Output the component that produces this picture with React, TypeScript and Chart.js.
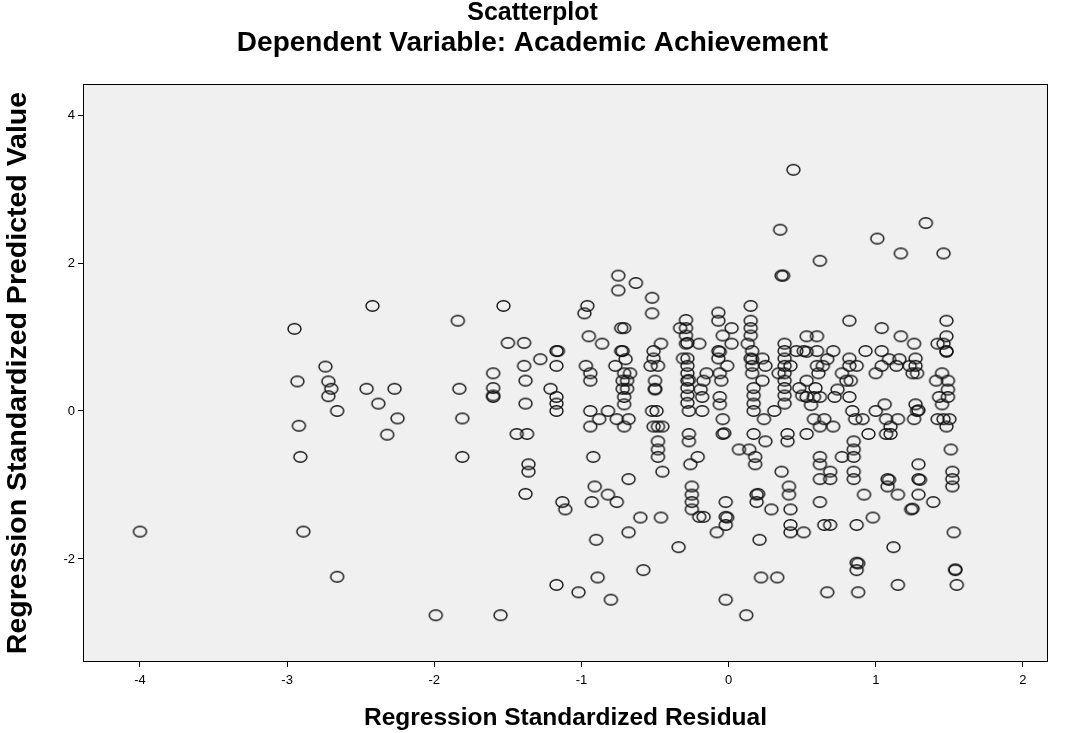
import React, { useEffect, useRef } from "react";
import { Chart, registerables } from "chart.js";

Chart.register(...registerables);

const chartTitle = "Scatterplot";
const chartSubtitle = "Dependent Variable: Academic Achievement";
const xAxisTitle = "Regression Standardized Residual";
const yAxisTitle = "Regression Standardized Predicted Value";

const xTicks = [-4, -3, -2, -1, 0, 1, 2];
const yTicks = [-2, 0, 2, 4];
const xRange = [-4.387, 2.17];
const yRange = [-3.392, 4.419];

// Regression Standardized Residual (x) paired with Regression Standardized Predicted Value (y)
const residuals = [
  -2.95, -2.74, -2.93, -2.72, -2.7, -2.72, -2.66, -2.92, -2.91, -4.0, -2.89, -2.66,
  -2.42, -1.53, -1.84, -1.5, -1.39, -1.28, -1.17, -1.16, -1.17, -1.6, -1.39, -1.38, -2.46, -2.27, -1.83, -1.6, -1.6, -1.6,
  -1.21, -1.17, -1.17, -1.17, -2.38, -1.38, -2.25, -1.81, -2.32, -1.44, -1.37, -1.81, -1.36, -1.36, -1.38, -1.99, -1.55, -1.17,
  -0.75, -0.63, -0.75, -0.52, -0.96, -0.98, -0.52, -0.73, -0.71, -0.95, -0.86, -0.46, -0.73, -0.72, -0.7, -0.51, -0.51,
  -0.53, -0.48, -0.97, -0.94, -0.94, -0.77, -0.71, -0.67, -0.72, -0.69, -0.72, -0.69, -0.71, -0.71, -0.5, -0.5, -0.5,
  -0.94, -0.82, -0.52, -0.49, -0.88, -0.76, -0.68, -0.94, -0.71, -0.51, -0.48, -0.45, -0.48, -0.48, -0.48, -0.45, -0.92,
  -0.68, -0.91, -0.82, -0.93, -0.76, -1.13, -1.11, -0.6, -0.46, -0.68, -0.9, -0.58, -0.89, -1.02, -0.8,
  0.44, 0.35, 0.36, 0.37, 0.15, -0.07, -0.07, -0.29, -0.33, -0.29, -0.29, -0.29, -0.28, -0.2, 0.02, -0.04, 0.02, 0.15,
  0.15, 0.15, 0.13, -0.07, -0.06, -0.07, -0.01, -0.15, -0.17, -0.06, -0.05, -0.31, -0.28, -0.28, -0.28, -0.28, -0.27,
  -0.28, -0.28, -0.28, -0.19, -0.18, -0.06, -0.06, 0.16, 0.15, 0.16, 0.16, 0.16, 0.23, 0.25, 0.23, 0.17, 0.17, 0.17,
  0.38, 0.38, 0.38, 0.38, 0.38, 0.38, 0.38, 0.38, 0.38, 0.34, 0.42,
  -0.27, -0.18, -0.04, -0.04, -0.03, 0.17, 0.31, 0.24, 0.17, 0.25, 0.4, 0.4, -0.27, -0.27, 0.07, 0.14, 0.18, 0.18, -0.21,
  -0.26, 0.36, -0.25, -0.25, -0.25, -0.25, -0.2, -0.17, -0.02, -0.02, -0.01, -0.02, -0.08, 0.19, 0.2, 0.19, 0.29, 0.41,
  0.41, 0.42, 0.42, 0.42, 0.21, -0.34, 0.22, 0.33, -0.02, 0.12,
  1.01, 1.17, 0.62, 0.82, 1.04, 0.53, 0.6, 1.17, 1.26, 0.46, 0.51, 0.53, 0.6, 0.71, 0.93, 1.04, 0.67, 0.82, 1.09, 1.16,
  1.27, 0.6, 0.64, 0.82, 0.87, 1.04, 1.14, 1.23, 1.27, 0.61, 0.77, 1.0, 1.25, 1.28, 0.53, 0.8, 0.83, 0.48, 0.5, 0.59,
  0.74, 0.53, 0.58, 0.62, 0.72, 0.82, 0.56, 1.06, 1.27,
  1.28, 1.29, 0.84, 1.0, 0.58, 0.65, 0.86, 0.91, 1.07, 1.15, 1.26, 0.53, 0.62, 0.71, 0.95, 1.07, 1.1, 1.1, 0.85, 0.85,
  0.85, 0.77, 0.62, 0.62, 0.69, 0.69, 0.62, 0.85, 0.85, 1.29, 1.29, 1.3, 1.29, 1.08, 1.09, 1.08, 1.15, 0.92, 0.62, 1.24,
  1.25, 0.51, 0.65, 0.69, 0.87, 0.98, 1.12, 0.87, 0.88, 0.87, 1.15, 0.67, 0.88,
  1.34, 1.46, 1.48, 1.48, 1.42, 1.46, 1.48, 1.48, 1.45, 1.41, 1.49, 1.49, 1.43, 1.49, 1.45, 1.42, 1.46, 1.5, 1.48, 1.51,
  1.39, 1.52, 1.52, 1.52, 1.53, 1.54, 1.54, 1.55,
];

const predicted = [
  1.11, 0.6, 0.4, 0.4, 0.3, 0.2, 0.0, -0.2, -0.62, -1.63, -1.63, -2.24,
  1.42, 1.42, 1.22, 0.92, 0.92, 0.7, 0.81, 0.81, 0.61, 0.51, 0.61, 0.41, 0.3, 0.3, 0.3, 0.31, 0.19, 0.21,
  0.3, 0.19, 0.1, 0.0, 0.1, 0.1, -0.1, -0.1, -0.32, -0.31, -0.31, -0.62, -0.72, -0.82, -1.12, -2.76, -2.76, -2.35,
  1.83, 1.73, 1.63, 1.53, 1.42, 1.32, 1.32, 1.12, 1.12, 1.01, 0.91, 0.91, 0.81, 0.81, 0.7, 0.81, 0.71,
  0.61, 0.61, 0.61, 0.51, 0.41, 0.61, 0.51, 0.51, 0.41, 0.41, 0.3, 0.3, 0.19, 0.09, 0.41, 0.3, 0.29,
  0.0, 0.0, 0.0, 0.0, -0.11, -0.11, -0.11, -0.21, -0.21, -0.21, -0.21, -0.21, -0.41, -0.52, -0.62, -0.82, -0.62,
  -0.92, -1.02, -1.13, -1.23, -1.23, -1.23, -1.33, -1.44, -1.44, -1.64, -1.74, -2.15, -2.25, -2.45, -2.55,
  3.26, 2.45, 1.83, 1.83, 1.42, 1.33, 1.22, 1.23, 1.12, 1.12, 1.02, 0.91, 0.92, 0.91, 1.12, 1.02, 0.91, 1.22,
  1.12, 1.02, 0.91, 0.81, 0.8, 0.71, 0.61, 0.51, 0.41, 0.51, 0.41, 0.71, 0.71, 0.61, 0.51, 0.41, 0.42,
  0.31, 0.21, 0.11, 0.29, 0.19, 0.19, 0.09, 0.81, 0.71, 0.7, 0.61, 0.51, 0.71, 0.61, 0.41, 0.31, 0.21, 0.1,
  0.91, 0.81, 0.71, 0.61, 0.51, 0.41, 0.31, 0.21, 0.1, 0.51, 0.61,
  0.0, 0.0, -0.11, -0.31, -0.3, 0.0, 0.0, -0.11, -0.31, -0.41, -0.31, -0.41, -0.31, -0.41, -0.52, -0.52, -0.62, -0.72, -0.62,
  -0.72, -0.82, -1.02, -1.13, -1.23, -1.33, -1.43, -1.43, -1.23, -1.43, -1.44, -1.54, -1.64, -1.13, -1.12, -1.23, -1.33, -1.02,
  -1.13, -1.33, -1.54, -1.64, -1.74, -1.84, -2.25, -2.25, -2.55, -2.76,
  2.33, 2.13, 2.03, 1.22, 1.12, 1.01, 1.01, 1.01, 0.91, 0.81, 0.81, 0.8, 0.81, 0.81, 0.81, 0.81, 0.7, 0.71, 0.7, 0.7,
  0.71, 0.61, 0.61, 0.61, 0.61, 0.61, 0.61, 0.61, 0.61, 0.51, 0.51, 0.51, 0.51, 0.51, 0.41, 0.41, 0.41, 0.31, 0.21, 0.31,
  0.29, 0.19, 0.19, 0.19, 0.19, 0.19, 0.08, 0.09, 0.09,
  0.0, 0.01, 0.0, 0.0, -0.11, -0.11, -0.11, -0.11, -0.11, -0.11, -0.11, -0.31, -0.21, -0.21, -0.31, -0.31, -0.31, -0.21, -0.41, -0.52,
  -0.62, -0.62, -0.62, -0.72, -0.82, -0.92, -0.92, -0.82, -0.92, -0.72, -0.92, -0.93, -1.13, -0.92, -0.93, -1.02, -1.13, -1.13, -1.23, -1.33,
  -1.32, -1.64, -1.54, -1.54, -1.54, -1.44, -1.84, -2.05, -2.06, -2.15, -2.35, -2.45, -2.45,
  2.54, 2.13, 1.22, 1.01, 0.91, 0.91, 0.8, 0.81, 0.51, 0.41, 0.41, 0.29, 0.19, 0.19, 0.09, -0.11, -0.11, -0.11, -0.21, -0.52,
  -1.23, -0.82, -0.92, -1.02, -1.64, -2.15, -2.14, -2.35,
];

const FONT = "'Liberation Sans', Arial, Helvetica, sans-serif";

function makeMarker(): HTMLCanvasElement {
  const c = document.createElement("canvas");
  c.width = 17;
  c.height = 14;
  const g = c.getContext("2d")!;
  g.strokeStyle = "#111";
  g.lineWidth = 1.4;
  g.beginPath();
  g.ellipse(8.5, 7, 6.5, 5.2, 0, 0, Math.PI * 2);
  g.stroke();
  return c;
}

const framePlugin = {
  id: "spssFrame",
  beforeDraw(chart: any) {
    const { ctx, chartArea } = chart;
    const { left, top, width, height } = chartArea;
    ctx.save();
    ctx.fillStyle = "#f0f0f0";
    ctx.fillRect(left, top, width, height);
    ctx.restore();
  },
  afterDraw(chart: any) {
    const { ctx, chartArea } = chart;
    const { left, top, right, bottom } = chartArea;
    ctx.save();
    ctx.strokeStyle = "#000";
    ctx.lineWidth = 1;
    ctx.strokeRect(Math.round(left) + 0.5, Math.round(top) + 0.5, Math.round(right - left) - 1, Math.round(bottom - top) - 1);
    ctx.restore();
  },
};

export default function App() {
  const ref = useRef<HTMLCanvasElement | null>(null);

  useEffect(() => {
    document.body.style.margin = "0";
    const canvas = ref.current;
    if (!canvas) return;
    const marker = makeMarker();
    const points = residuals.map((x, i) => ({ x, y: predicted[i] }));
    const chart = new Chart(canvas, {
      type: "scatter",
      data: {
        datasets: [
          {
            data: points,
            pointStyle: marker as any,
            pointRadius: 6,
            pointHoverRadius: 6,
            yAxisID: "y",
          },
        ],
      },
      plugins: [framePlugin],
      options: {
        animation: false,
        responsive: false,
        devicePixelRatio: 1,
        events: [],
        layout: { padding: 0 },
        plugins: {
          legend: { display: false },
          tooltip: { enabled: false },
          title: {
            display: true,
            text: chartTitle,
            color: "#000",
            font: { family: FONT, size: 25, weight: "bold", lineHeight: 1 },
            padding: { top: 0.5, bottom: 3.5 },
          },
          subtitle: {
            display: true,
            text: chartSubtitle,
            color: "#000",
            font: { family: FONT, size: 28, weight: "bold", lineHeight: 1 },
            padding: { top: 0, bottom: 27 },
          },
        },
        scales: {
          x: {
            type: "linear",
            position: "bottom",
            min: xRange[0],
            max: xRange[1],
            afterBuildTicks: (s: any) => {
              s.ticks = xTicks.map((v) => ({ value: v }));
            },
            afterFit: (s: any) => {
              s.height = 71;
            },
            ticks: {
              color: "#000",
              font: { family: FONT, size: 13 },
              padding: 6,
              maxRotation: 0,
              callback: (v: any) => String(v),
            },
            grid: {
              display: true,
              drawOnChartArea: false,
              drawTicks: true,
              tickLength: 5,
              color: "#000",
            },
            border: { display: false },
            title: {
              display: true,
              text: xAxisTitle,
              color: "#000",
              font: { family: FONT, size: 24.5, weight: "bold", lineHeight: 1 },
              padding: { top: 0, bottom: 2.75 },
            },
          },
          y: {
            type: "linear",
            position: "left",
            min: yRange[0],
            max: yRange[1],
            afterBuildTicks: (s: any) => {
              s.ticks = yTicks.map((v) => ({ value: v }));
            },
            afterFit: (s: any) => {
              s.width = 83;
            },
            ticks: {
              color: "#000",
              font: { family: FONT, size: 13 },
              padding: 3,
              callback: (v: any) => String(v),
            },
            grid: {
              display: true,
              drawOnChartArea: false,
              drawTicks: true,
              tickLength: 5,
              color: "#000",
            },
            border: { display: false },
            title: {
              display: true,
              text: yAxisTitle,
              color: "#000",
              font: { family: FONT, size: 28.5, weight: "bold", lineHeight: 1 },
              padding: { top: 3.75, bottom: 0 },
            },
          },
          yRight: {
            type: "linear",
            position: "right",
            display: true,
            afterFit: (s: any) => {
              s.width = 17;
            },
            ticks: { display: false },
            grid: { display: false },
            border: { display: false },
          },
        },
      } as any,
    });
    return () => chart.destroy();
  }, []);

  return (
    <div style={{ position: "absolute", left: 0, top: 0, width: 1065, height: 733, background: "#fff" }}>
      <canvas ref={ref} width={1065} height={733} style={{ width: 1065, height: 733, display: "block" }} />
    </div>
  );
}
